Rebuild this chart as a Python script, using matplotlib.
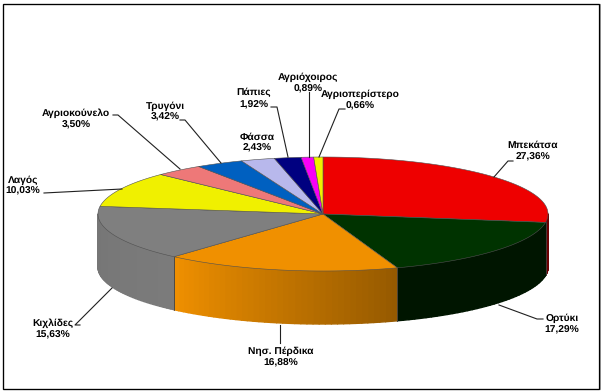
"""3D-look pie of game species shares, drawn by hand since matplotlib has no 3D pie."""

import matplotlib
matplotlib.use("Agg")
import matplotlib.pyplot as plt
import numpy as np
from matplotlib.collections import PolyCollection
from matplotlib.patches import Rectangle

species = ["Μπεκάτσα", "Ορτύκι", "Νησ. Πέρδικα", "Κιχλίδες", "Λαγός", "Αγριοκούνελο",
           "Τρυγόνι", "Φάσσα", "Πάπιες", "Αγριόχοιρος", "Αγριοπερίστερο"]
shares = [27.36, 17.29, 16.88, 15.63, 10.03, 3.50, 3.42, 2.43, 1.92, 0.89, 0.66]
share_labels = ["27,36%", "17,29%", "16,88%", "15,63%", "10,03%", "3,50%",
                "3,42%", "2,43%", "1,92%", "0,89%", "0,66%"]
top_colors = ["#ee0000", "#003300", "#f09000", "#7f7f7f", "#f0f000", "#ee7878",
              "#0060c0", "#b8b8ec", "#000080", "#f800f8", "#f0f000"]

# side wall brightness at the start and end of each slice (front part only matters)
side_shade = [(0.45, 0.45), (0.42, 0.42), (0.62, 1.0), (0.97, 0.92), (0.9, 0.9), (0.9, 0.9),
              (0.9, 0.9), (0.9, 0.9), (0.9, 0.9), (0.9, 0.9), (0.9, 0.9)]

# label centre (x, y of name line, y of value line) and leader line, in image pixels
label_pos = [(533, 144, 156), (562, 317, 329), (281, 350, 362), (53, 322, 334),
             (23, 179, 190), (76, 112, 124), (165, 105, 116), (257, 136, 147),
             (254, 92, 104), (308, 76, 88), (360, 93, 105)]
leaders = [[(513, 161), (508, 161), (494, 177)],
           [(543, 319), (537, 319), (499, 305)],
           [(280, 325), (280, 343)],
           [(80, 325), (75, 325), (112, 288)],
           [(44, 193), (122, 189)],
           [(113, 115), (118, 115), (180, 169)],
           [(180, 120), (185, 120), (221, 163)],
           None,
           [(271, 107), (277, 107), (288, 157)],
           [(309, 92), (309, 157)],
           [(345, 109), (339, 109), (319, 157)]]

CX, CY = 323, 214
RX, RY = 225, 57
DEPTH = 53

plt.rcParams["font.family"] = ["Liberation Sans", "DejaVu Sans"]
plt.rcParams["text.hinting"] = "none"

fig = plt.figure(figsize=(6.01, 3.92), dpi=100)
ax = fig.add_axes([0, 0, 1, 1])
ax.set_xlim(0, 601)
ax.set_ylim(392, 0)
ax.axis("off")

# chart frame with its soft grey shadow
ax.add_patch(Rectangle((3, 4), 596.5, 385, fill=False, ec="#a0a0a0", lw=0.9))
ax.add_patch(Rectangle((2.5, 3.5), 596.5, 385, fill=False, ec="black", lw=0.9))


def rim(theta):
    # theta is clockwise from 12 o'clock
    return CX + RX * np.sin(theta), CY - RY * np.cos(theta)


edges = np.radians(np.cumsum([0] + shares) / sum(shares) * 360)

# side walls, as thin shaded strips on the front half of the ellipse
quads, quad_colors = [], []
for i, col in enumerate(top_colors):
    start = max(edges[i], np.pi / 2)
    end = min(edges[i + 1], 3 * np.pi / 2)
    if start >= end:
        continue
    base = np.array(matplotlib.colors.to_rgb(col))
    steps = np.linspace(start, end, 40)
    for a, b in zip(steps[:-1], steps[1:]):
        xa, ya = rim(a)
        xb, yb = rim(b)
        quads.append([(xa, ya), (xb, yb), (xb, yb + DEPTH), (xa, ya + DEPTH)])
        frac = ((a + b) / 2 - edges[i]) / (edges[i + 1] - edges[i])
        s0, s1 = side_shade[i]
        quad_colors.append(base * (s0 + (s1 - s0) * frac))
ax.add_collection(PolyCollection(quads, facecolors=quad_colors, edgecolors=quad_colors, linewidths=1.0, zorder=2))

# dark seams where side wall slices meet
for i in range(1, len(shares)):
    if np.pi / 2 < edges[i] < 3 * np.pi / 2:
        x, y = rim(edges[i])
        ax.plot([x, x], [y, y + DEPTH], color="#404040", lw=0.6, zorder=3)

# top face
for i, col in enumerate(top_colors):
    t = np.linspace(edges[i], edges[i + 1], 120)
    xs, ys = rim(t)
    ax.fill(np.r_[CX, xs], np.r_[CY, ys], facecolor=col, edgecolor="#505050", lw=0.4, zorder=4)

# labels and leader lines, baseline aligned so both lines keep an even pitch
for name, value, pos, line in zip(species, share_labels, label_pos, leaders):
    x, y1, y2 = pos
    ax.text(x, y1 + 3.5, name, ha="center", va="baseline", fontsize=7.4, fontweight="bold", color="black", zorder=6)
    ax.text(x, y2 + 3.5, value, ha="center", va="baseline", fontsize=7.4, fontweight="bold", color="black", zorder=6)
    if line:
        ax.plot(*zip(*line), color="#202020", lw=0.8, zorder=5)

fig.savefig("out.png", dpi=100)
